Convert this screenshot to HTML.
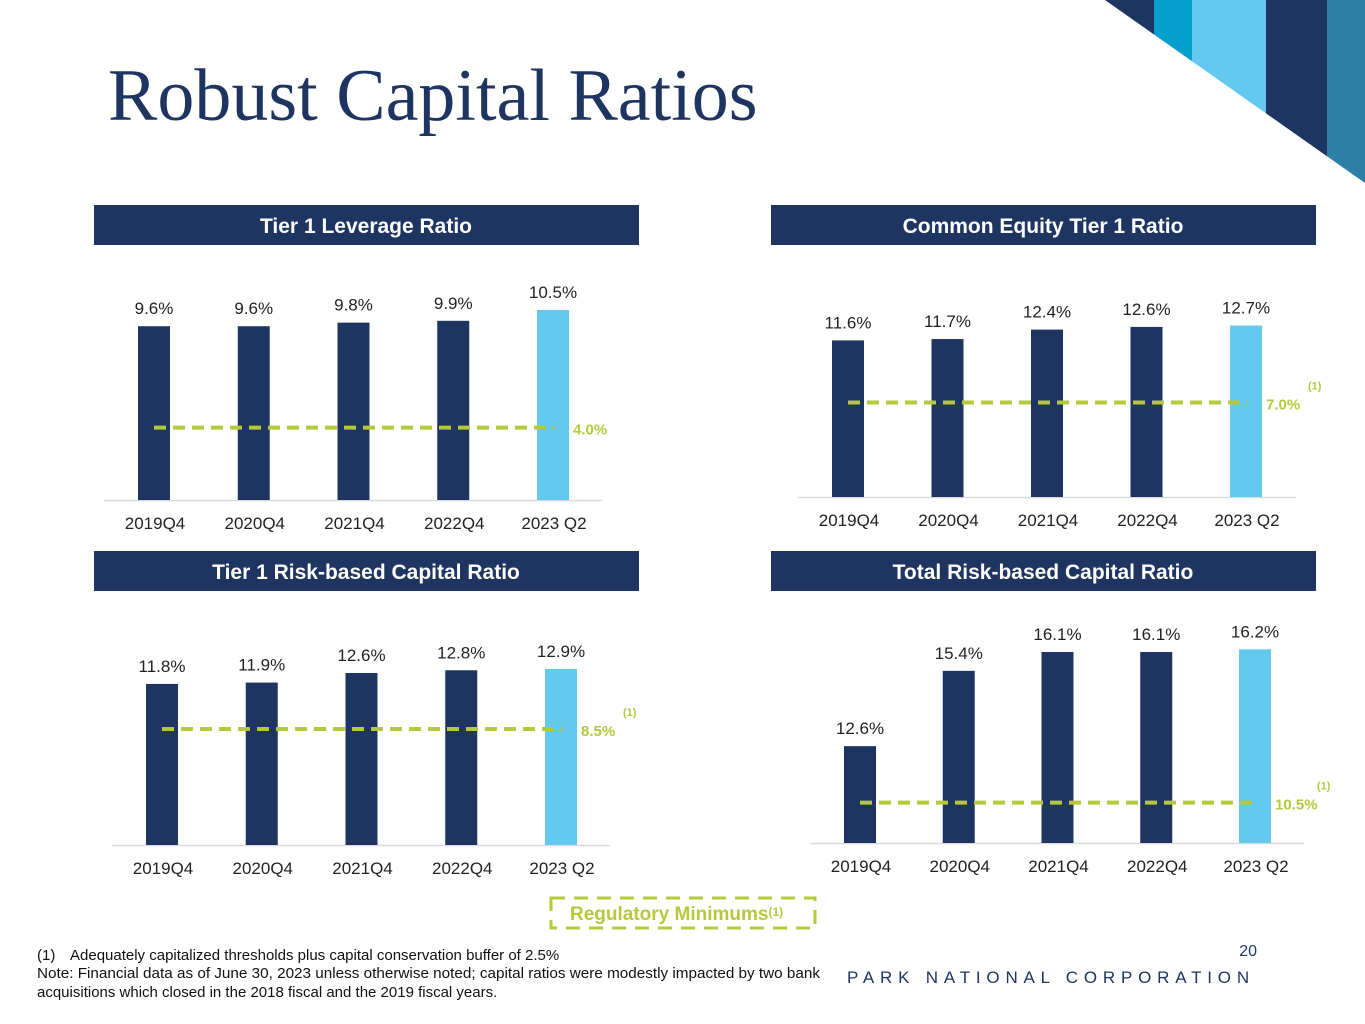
<!DOCTYPE html>
<html><head><meta charset="utf-8"><style>
body{margin:0;width:1365px;height:1024px;background:#fff;overflow:hidden;font-family:"Liberation Sans",sans-serif;position:relative}
svg{position:absolute;left:0;top:0}
</style></head><body>
<svg id="s" width="1365" height="1024">
  <g>
    <rect x="1100" y="0" width="54" height="200" fill="#1e3461"/>
    <rect x="1154" y="0" width="38" height="200" fill="#05a0cc"/>
    <rect x="1192" y="0" width="74" height="200" fill="#64c9ef"/>
    <rect x="1266" y="0" width="61" height="200" fill="#1e3461"/>
    <rect x="1327" y="0" width="38" height="200" fill="#2e7ea6"/>
    <polygon points="1100,0 1105,0 1365,183 1365,200 1100,200" fill="#fff"/>
  </g>
  <text x="108" y="120" font-family="Liberation Serif,serif" font-size="74" fill="#1e3461">Robust Capital Ratios</text>
  <g id="charts"></g>
  <rect x="551" y="898" width="264" height="30" fill="none" stroke="#b5c93b" stroke-width="3" stroke-dasharray="14,9"/>
  <text x="570" y="920" font-size="19" font-weight="bold" fill="#b5c93b">Regulatory Minimums<tspan font-size="12" dy="-4">(1)</tspan></text>
  <text x="37" y="960" font-size="15" fill="#111">(1)<tspan x="70">Adequately capitalized thresholds plus capital conservation buffer of 2.5%</tspan></text>
  <text x="37" y="978" font-size="15" fill="#111" textLength="783" lengthAdjust="spacingAndGlyphs">Note: Financial data as of June 30, 2023 unless otherwise noted; capital ratios were modestly impacted by two bank</text>
  <text x="37" y="997" font-size="15" fill="#111">acquisitions which closed in the 2018 fiscal and the 2019 fiscal years.</text>
  <text x="1257" y="956" font-size="16" fill="#1e3461" text-anchor="end">20</text>
  <text x="847" y="983" font-size="17" fill="#1e3461" letter-spacing="5.8">PARK NATIONAL CORPORATION</text>
</svg>
<script>
const categories = ["2019Q4","2020Q4","2021Q4","2022Q4","2023 Q2"];
const tier1Leverage = [9.6, 9.6, 9.8, 9.9, 10.5];
const cet1 = [11.6, 11.7, 12.4, 12.6, 12.7];
const tier1RiskBased = [11.8, 11.9, 12.6, 12.8, 12.9];
const totalRiskBased = [12.6, 15.4, 16.1, 16.1, 16.2];
const minimums = [4.0, 7.0, 8.5, 10.5];
const titles = ["Tier 1 Leverage Ratio","Common Equity Tier 1 Ratio","Tier 1 Risk-based Capital Ratio","Total Risk-based Capital Ratio"];

const NS="http://www.w3.org/2000/svg";
const root=document.getElementById('charts');
function mk(tag,attrs,parent,text){const e=document.createElementNS(NS,tag);for(const k in attrs)e.setAttribute(k,attrs[k]);if(text!==undefined)e.textContent=text;parent.appendChild(e);return e;}

function drawChart(idx,values,minVal,cfg){
  const g=mk('g',{},root);
  
  
  const h=mk('rect',{x:cfg.hx,y:cfg.hy,width:545,height:40,fill:'#1e3461'},g);
  
  
  const ht=mk('text',{x:cfg.hx+272,y:cfg.hy+28,'font-size':21,'font-weight':'bold',fill:'#fff','text-anchor':'middle'},g,titles[idx]);
  
  
  const y=v=>cfg.base-(v-cfg.ymin)*cfg.ppu;
  const x=i=>cfg.x0+i*cfg.step;
  const ax=mk('line',{x1:cfg.ax1,x2:cfg.ax2,y1:cfg.base+0.5,y2:cfg.base+0.5,stroke:'#d9d9d9','stroke-width':1.5},g);
  
  
  values.forEach((v,i)=>{
    const b=mk('rect',{x:x(i)-16,y:y(v),width:32,height:cfg.base-y(v),fill:i===values.length-1?'#64c9ef':'#1e3461'},g);
    
    
    const t=mk('text',{x:x(i),y:y(v)-12,'font-size':17,fill:'#222','text-anchor':'middle'},g,v.toFixed(1)+'%');
    
    
    const c=mk('text',{x:x(i)+1,y:cfg.base+29,'font-size':17,fill:'#222','text-anchor':'middle'},g,categories[i]);
    
    
  });
  const ly=y(minVal);
  const dl=mk('line',{x1:x(0),x2:x(values.length-1)+2,y1:ly,y2:ly,stroke:'#b5c93b','stroke-width':4,'stroke-dasharray':'12,7'},g);
  
  
  const lt=mk('text',{x:x(values.length-1)+20,y:ly+7,'font-size':15,'font-weight':'bold',fill:'#b5c93b'},g,minVal.toFixed(1)+'%');
  
  
  if(cfg.foot){
    const f=mk('text',{x:x(values.length-1)+62,y:ly-13,'font-size':11,'font-weight':'bold',fill:'#b5c93b'},g,'(1)');
    
    
  }
}
drawChart(0,tier1Leverage,minimums[0],{hx:94,hy:205,x0:154,step:99.75,base:500,ymin:0,ppu:18.1,ax1:104,ax2:602,foot:false});
drawChart(1,cet1,minimums[1],{hx:771,hy:205,x0:848,step:99.5,base:497,ymin:0,ppu:13.5,ax1:798,ax2:1296,foot:true});
drawChart(2,tier1RiskBased,minimums[2],{hx:94,hy:551,x0:162,step:99.75,base:845,ymin:0,ppu:13.65,ax1:112,ax2:610,foot:true});
drawChart(3,totalRiskBased,minimums[3],{hx:771,hy:551,x0:860,step:98.75,base:843,ymin:9,ppu:26.9,ax1:810,ax2:1304,foot:true});
</script>
</body></html>
